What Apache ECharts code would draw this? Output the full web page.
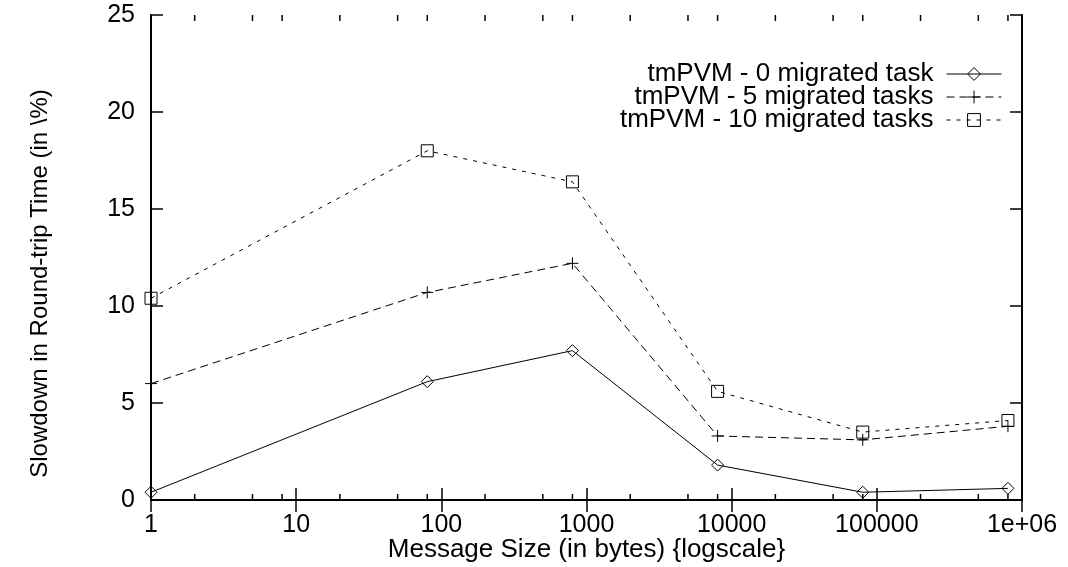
<!DOCTYPE html>
<html>
<head>
<meta charset="utf-8">
<script src="https://cdn.jsdelivr.net/npm/echarts@6/dist/echarts.min.js"></script>
<style>html,body{margin:0;padding:0;background:#fff;}#c{width:1068px;height:567px;}</style>
</head>
<body>
<div id="c"></div>
<script>
var sizes = [1, 80, 800, 8000, 80000, 800000];
var task0 = [0.4, 6.1, 7.7, 1.8, 0.4, 0.6];
var task5 = [6.0, 10.7, 12.2, 3.3, 3.1, 3.8];
var task10 = [10.4, 18.0, 16.4, 5.6, 3.5, 4.1];
var seriesNames = ['tmPVM - 0 migrated task', 'tmPVM - 5 migrated tasks', 'tmPVM - 10 migrated tasks'];
var xTickLabels = ['1', '10', '100', '1000', '10000', '100000', '1e+06'];
var yTicks = [0, 5, 10, 15, 20, 25];
var minorTicks = [2, 5, 8, 20, 50, 80, 200, 500, 800, 2000, 5000, 8000, 20000, 50000, 80000, 200000, 500000, 800000];

var FONT = '"Liberation Sans", Arial, Helvetica, sans-serif';
var chart = echarts.init(document.getElementById('c'), null, {renderer: 'canvas'});

function pairs(ys) { return sizes.map(function (x, i) { return [x, ys[i]]; }); }

var axisLine = {show: true, lineStyle: {color: '#000', width: 2}};
var plusPath = 'path://M0,5L10,5M5,0L5,10';
var lineTypes = ['solid', [8, 5], [4, 6]];

function legendFor(i, top) {
  return {
    data: [seriesNames[i]], right: 66, top: top, orient: 'horizontal', align: 'right',
    itemWidth: 55, itemHeight: 16, padding: 0,
    textStyle: {fontFamily: FONT, fontSize: 26, color: '#000', padding: [0, 8, 0, 0]},
    itemStyle: {color: 'rgba(0,0,0,0)', borderColor: '#000', borderWidth: 1},
    lineStyle: {color: '#000', width: 1, type: lineTypes[i]},
    inactiveColor: '#000'
  };
}

chart.setOption({
  animation: false,
  backgroundColor: '#fff',
  grid: {left: 151, right: 46, top: 15, bottom: 67, containLabel: false, outerBoundsMode: 'none'},
  legend: [legendFor(0, 61), legendFor(1, 84), legendFor(2, 107)],
  xAxis: [{
    type: 'log', logBase: 10, min: 1, max: 1000000, position: 'bottom',
    name: 'Message Size (in bytes) {logscale}', nameLocation: 'middle', nameGap: 37, nameMoveOverlap: false,
    nameTextStyle: {fontFamily: FONT, fontSize: 26, color: '#000'},
    axisLine: axisLine,
    axisTick: {show: true, inside: true, length: 12, lineStyle: {color: '#000', width: 1.5}},
    axisLabel: {margin: 13, fontFamily: FONT, fontSize: 25, color: '#000',
      formatter: function (v) { return xTickLabels[Math.round(Math.log10(v))]; }},
    splitLine: {show: false}, minorTick: {show: false}
  }, {
    type: 'log', logBase: 10, min: 1, max: 1000000, position: 'top',
    axisLine: axisLine,
    axisTick: {show: true, inside: true, length: 12, lineStyle: {color: '#000', width: 1.5}},
    axisLabel: {show: false}, splitLine: {show: false}
  }],
  yAxis: [{
    type: 'value', min: 0, max: 25, interval: 5, position: 'left',
    name: 'Slowdown in Round-trip Time (in \\%)', nameLocation: 'middle', nameGap: 99, nameRotate: 90,
    nameTextStyle: {fontFamily: FONT, fontSize: 24, color: '#000', padding: [0, 52, 0, 0]},
    axisLine: axisLine,
    axisTick: {show: true, inside: true, length: 12, lineStyle: {color: '#000', width: 1.5}},
    axisLabel: {margin: 16, fontFamily: FONT, fontSize: 25, color: '#000',
      formatter: function (v) { return yTicks.indexOf(v) >= 0 ? String(v) : ''; }},
    splitLine: {show: false}
  }, {
    type: 'value', min: 0, max: 25, interval: 5, position: 'right',
    axisLine: axisLine,
    axisTick: {show: true, inside: true, length: 12, lineStyle: {color: '#000', width: 1.5}},
    axisLabel: {show: false}, splitLine: {show: false}
  }],
  series: [{
    type: 'custom', silent: true, xAxisIndex: 0, yAxisIndex: 0, z: 1,
    data: minorTicks.map(function (v) { return [v, 0]; }),
    renderItem: function (params, api) {
      var b = api.coord([api.value(0), 0]);
      var t = api.coord([api.value(0), 25]);
      return {type: 'group', children: [
        {type: 'line', shape: {x1: b[0], y1: b[1], x2: b[0], y2: b[1] - 6}, style: {stroke: '#000', lineWidth: 1.5}},
        {type: 'line', shape: {x1: t[0], y1: t[1], x2: t[0], y2: t[1] + 6}, style: {stroke: '#000', lineWidth: 1.5}}
      ]};
    }
  }, {
    name: seriesNames[0], type: 'line', data: pairs(task0),
    symbol: 'diamond', symbolSize: [12, 12], showSymbol: true,
    lineStyle: {color: '#000', width: 1, type: lineTypes[0]},
    itemStyle: {color: 'rgba(0,0,0,0)', borderColor: '#000', borderWidth: 1}
  }, {
    name: seriesNames[1], type: 'line', data: pairs(task5),
    symbol: plusPath, symbolSize: 12, showSymbol: true,
    lineStyle: {color: '#000', width: 1, type: lineTypes[1]},
    itemStyle: {color: 'rgba(0,0,0,0)', borderColor: '#000', borderWidth: 1}
  }, {
    name: seriesNames[2], type: 'line', data: pairs(task10),
    symbol: 'rect', symbolSize: 12, showSymbol: true,
    lineStyle: {color: '#000', width: 1, type: lineTypes[2]},
    itemStyle: {color: 'rgba(0,0,0,0)', borderColor: '#000', borderWidth: 1}
  }]
});
</script>
</body>
</html>
